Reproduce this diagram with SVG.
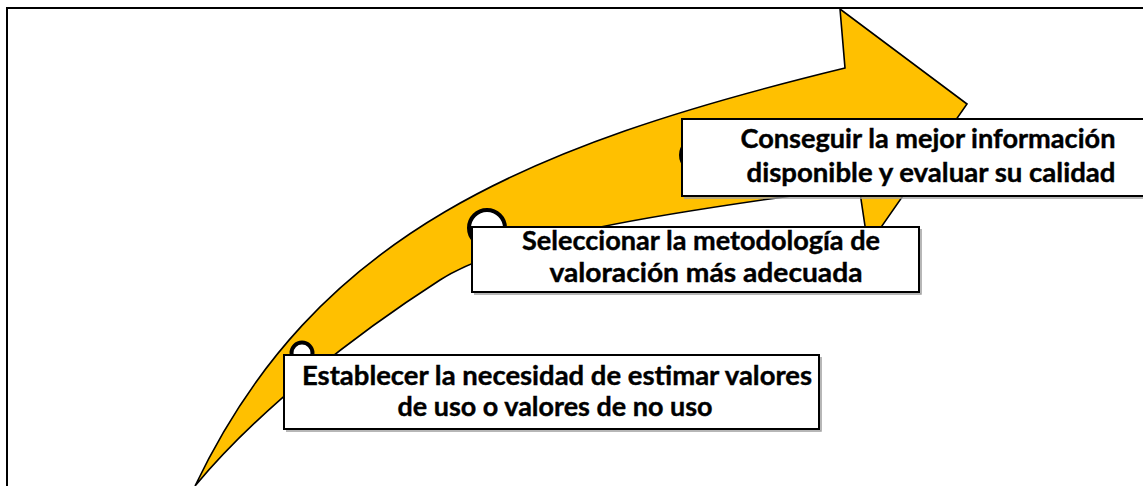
<svg xmlns="http://www.w3.org/2000/svg" width="1143" height="486" viewBox="0 0 1143 486">
<style>
.frame{fill:none;stroke:#000;stroke-width:2}
.arrow{fill:#FFC000;stroke:#000;stroke-width:1.6;stroke-linejoin:miter}
.dot{fill:#fff;stroke:#000;stroke-width:4}
.shadow{fill:none;stroke:#a0a0a0;stroke-width:1.5}
.box{fill:#fff;stroke:#000;stroke-width:2}
.lbl{font-family:Lato,"Liberation Sans",sans-serif;font-weight:bold;font-size:27px;fill:#000;text-anchor:middle;stroke:#000;stroke-width:0.4}
</style>
<rect x="0" y="0" width="1143" height="486" fill="#fff"/>
<path class="frame" d="M7,486 V8 H1143"/>
<g id="connectors">
<path id="arrow" class="arrow" d="M195,486 C315,234 525,146 845,68 L840,9 L967,104 L868,246 L859,186 C759,202 524,226 440,280 C356,334 259,409 195,486 Z"/>
</g>
<g id="node3">
<circle class="dot" cx="697" cy="155" r="16"/>
<path class="shadow" d="M684,198 H1143"/>
<rect class="box" x="682" y="119" width="470" height="77"/>
<text class="lbl" x="928" y="148" textLength="375" lengthAdjust="spacingAndGlyphs">Conseguir la mejor información</text>
<text class="lbl" x="931" y="182" textLength="369" lengthAdjust="spacingAndGlyphs">disponible y evaluar su calidad</text>
</g>
<g id="node2">
<circle class="dot" cx="487" cy="228" r="18"/>
<path class="shadow" d="M474,294 H921 V229"/>
<rect class="box" x="472" y="227" width="447" height="65"/>
<text class="lbl" x="701" y="250" textLength="358" lengthAdjust="spacingAndGlyphs">Seleccionar la metodología de</text>
<text class="lbl" x="706" y="282" textLength="313" lengthAdjust="spacingAndGlyphs">valoración más adecuada</text>
</g>
<g id="node1">
<circle class="dot" cx="302" cy="353" r="10.5"/>
<path class="shadow" d="M286,431 H821 V357"/>
<rect class="box" x="284" y="355" width="535" height="74"/>
<text class="lbl" x="557" y="385" textLength="510" lengthAdjust="spacingAndGlyphs">Establecer la necesidad de estimar valores</text>
<text class="lbl" x="555" y="416" textLength="315" lengthAdjust="spacingAndGlyphs">de uso o valores de no uso</text>
</g>
</svg>
